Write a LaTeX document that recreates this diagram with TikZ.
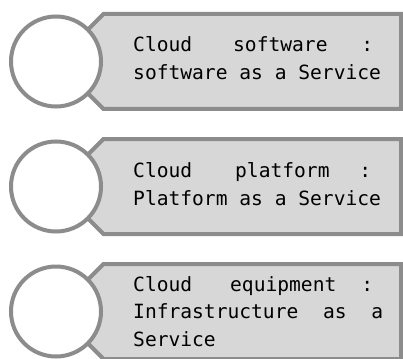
\documentclass[tikz,border=0pt]{standalone}
\usepackage{fontspec}
\setmonofont{DejaVu Sans Mono}
\definecolor{edgegray}{HTML}{8C8C8C}
\definecolor{boxfill}{HTML}{D7D7D7}
\tikzset{
  tagbox/.style={draw=edgegray, fill=boxfill, line width=4pt, line join=miter},
  disc/.style={circle, draw=edgegray, fill=white, line width=4pt, minimum size=90pt, inner sep=0pt},
  txt/.style={anchor=base west, inner sep=0pt, font=\ttfamily\fontsize{19.6}{27.7}\selectfont, text=black}
}
\begin{document}
\begin{tikzpicture}[x=1pt, y=-1pt]
\useasboundingbox (0,0) rectangle (403,358);
% box 1
\draw[tagbox] (401,14) -- (103.5,14) -- (56,61.5) -- (103.5,109) -- (401,109) -- cycle;
\node[disc] (c1) at (56,61.5) {};
\node[txt] (t11) at (133,52) {\makebox[250pt][l]{Cloud\hspace{41pt}software\hfill:\hspace{10pt}}};
\node[txt] (t12) at (133,80) {software as a Service};
% box 2
\draw[tagbox] (401,139) -- (103.5,139) -- (56,186.5) -- (103.5,234) -- (401,234) -- cycle;
\node[disc] (c2) at (56,186.5) {};
\node[txt] (t21) at (133,177) {\makebox[250pt][l]{Cloud\hspace{43pt}platform\hfill:\hspace{12pt}}};
\node[txt] (t22) at (133,205) {Platform as a Service};
% box 3
\draw[tagbox] (401,264) -- (103.5,264) -- (56,311.5) -- (103.5,359) -- (401,359) -- cycle;
\node[disc] (c3) at (56,311.5) {};
\node[txt] (t31) at (133,291) {\makebox[250pt][l]{Cloud\hspace{38pt}equipment\hfill:\hspace{10pt}}};
\node[txt] (t32) at (133,318.5) {\makebox[250pt][l]{Infrastructure\hfill as\hfill a}};
\node[txt] (t33) at (133,346) {Service};
\end{tikzpicture}
\end{document}
